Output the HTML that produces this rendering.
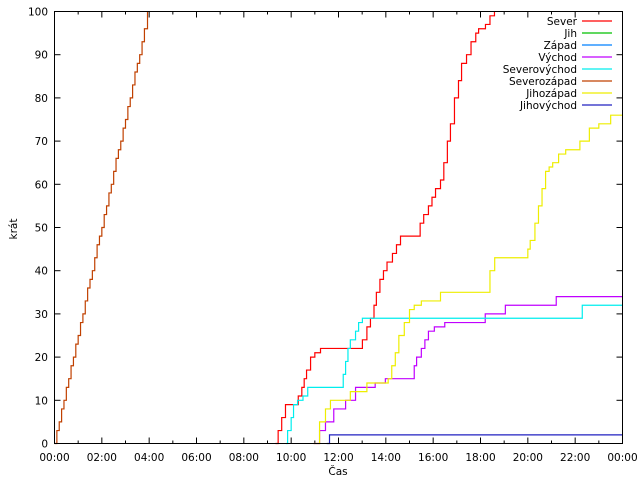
<!DOCTYPE html>
<html><head><meta charset="utf-8"><style>
body{margin:0;background:#fff}
svg{display:block;font-family:"DejaVu Sans","Liberation Sans",sans-serif;font-size:10.5px}
</style></head><body>
<svg id="chart" width="640" height="480" viewBox="0 0 640 480" xmlns="http://www.w3.org/2000/svg">
<rect width="640" height="480" fill="#fff"/>
<g id="grid"></g>
<g id="series"></g>
<g id="legend"></g>
<rect x="54.5" y="11.5" width="568" height="432" fill="none" stroke="#000" stroke-width="1"/>
<text x="17" y="229" text-anchor="middle" transform="rotate(-90 17 229)">krát</text>
<text x="338" y="475" text-anchor="middle">Čas</text>
</svg>
<script>
const xTicks=["00:00","02:00","04:00","06:00","08:00","10:00","12:00","14:00","16:00","18:00","20:00","22:00","00:00"];
const yTicks=[0,10,20,30,40,50,60,70,80,90,100];
const names=["Sever","Jih","Západ","Východ","Severovýchod","Severozápad","Jihozápad","Jihovýchod"];
const colors=["#ff0000","#00c000","#0080ff","#c000ff","#00eeee","#c04000","#eeee00","#2020c0"];
const severTimes=[9.34,9.45,9.6,9.76,10.23,10.3,10.45,10.55,10.65,10.82,11.0,11.24,12.72,13.01,13.2,13.35,13.5,13.6,13.75,13.9,14.05,14.28,14.45,14.62,15.34,15.45,15.6,15.8,15.95,16.1,16.31,16.45,16.6,16.73,16.9,17.07,17.2,17.41,17.6,17.8,17.92,18.21,18.4,18.59];
const severVals=[0,3,6,9,9,11,13,15,17,20,21,22,22,24,27,29,32,35,38,40,42,44,46,48,48,51,53,55,57,59,61,65,70,74,80,84,88,90,93,95,96,97,99,100];
const vychodTimes=[10.95,11.2,11.45,11.8,12.3,12.72,13.55,13.98,15.08,15.2,15.3,15.5,15.65,15.8,16.05,16.49,18.0,18.2,19.05,21.2,24];
const vychodVals=[0,3,5,8,10,13,14,15,15,18,20,22,24,26,27,28,28,30,32,34,34];
const svTimes=[9.78,9.85,10.0,10.1,10.27,10.5,10.7,12.09,12.2,12.3,12.4,12.5,12.72,12.85,13.01,22.2,22.3,24];
const svVals=[0,3,6,9,10,11,13,13,16,19,22,24,26,28,29,29,32,32];
const szTimes=[0,0.1,0.2,0.3,0.4,0.5,0.6,0.7,0.8,0.9,1.0,1.1,1.2,1.3,1.4,1.5,1.6,1.7,1.8,1.9,2.0,2.1,2.2,2.3,2.4,2.5,2.6,2.7,2.8,2.9,3.0,3.1,3.2,3.3,3.4,3.5,3.6,3.7,3.8,3.93];
const szVals=[0,3,5,8,10,13,15,18,20,23,25,28,30,33,36,38,40,43,46,48,50,53,55,58,60,63,66,68,70,73,75,78,80,83,86,88,90,93,96,100];
const jzTimes=[10.95,11.2,11.45,11.66,12.5,13.2,14.1,14.25,14.4,14.55,14.78,15.0,15.2,15.5,16.31,18.1,18.4,18.6,19.89,20.0,20.1,20.3,20.45,20.6,20.75,20.9,21.05,21.3,21.6,22.2,22.6,23.0,23.5,24];
const jzVals=[0,5,8,10,12,14,15,18,21,25,28,31,32,33,35,35,40,43,43,45,47,51,55,59,63,64,65,67,68,70,73,74,76,76];
const jvTimes=[11.5,11.62,24];
const jvVals=[0,2,2];
const seriesTimes=[severTimes,null,null,vychodTimes,svTimes,szTimes,jzTimes,jvTimes];
const seriesVals=[severVals,null,null,vychodVals,svVals,szVals,jzVals,jvVals];
const X0=54.5,X1=622.5,Y0=443.5,Y1=11.5;
const xs=h=>X0+(X1-X0)*h/24;
const ys=v=>Y0-(Y0-Y1)*v/100;
const NS="http://www.w3.org/2000/svg";
function mk(t,a,p){const e=document.createElementNS(NS,t);for(const k in a)e.setAttribute(k,a[k]);p.appendChild(e);return e;}
const grid=document.getElementById('grid');
for(let h=0;h<=24;h++){
 const len=h%2==0?6:3;
 const t=mk('line',{x1:xs(h),x2:xs(h),y1:Y0,y2:Y0-len,stroke:'#000'},grid);
 
 
 const t2=mk('line',{x1:xs(h),x2:xs(h),y1:Y1,y2:Y1+len,stroke:'#000'},grid);
 
 
}
xTicks.forEach((s,i)=>{
 const t=mk('text',{x:xs(i*2),y:461,'text-anchor':'middle'},grid);t.textContent=s;
 
 
});
yTicks.forEach(v=>{
 const l=mk('line',{x1:X0,x2:X0+6,y1:ys(v),y2:ys(v),stroke:'#000'},grid);
 
 
 const r=mk('line',{x1:X1-6,x2:X1,y1:ys(v),y2:ys(v),stroke:'#000'},grid);
 
 
 const t=mk('text',{x:48,y:ys(v)+4,'text-anchor':'end'},grid);t.textContent=v;
 
 
});
const sg=document.getElementById('series');
seriesTimes.forEach((ts,i)=>{
 if(!ts)return;
 const vs=seriesVals[i];
 let d='M'+xs(ts[0])+','+ys(vs[0]);
 for(let k=1;k<ts.length;k++){d+=' L'+xs(ts[k])+','+ys(vs[k-1])+' L'+xs(ts[k])+','+ys(vs[k]);}
 const p=mk('path',{d:d,fill:'none',stroke:colors[i],'stroke-width':1.2},sg);
 
 
});
const lg=document.getElementById('legend');
names.forEach((n,i)=>{
 const y=21+i*12;
 const t=mk('text',{x:577,y:y+4,'text-anchor':'end'},lg);t.textContent=n;
 
 
 const l=mk('line',{x1:582,x2:612,y1:y,y2:y,stroke:colors[i],'stroke-width':1.2},lg);
 
 
});
</script>
</body></html>
